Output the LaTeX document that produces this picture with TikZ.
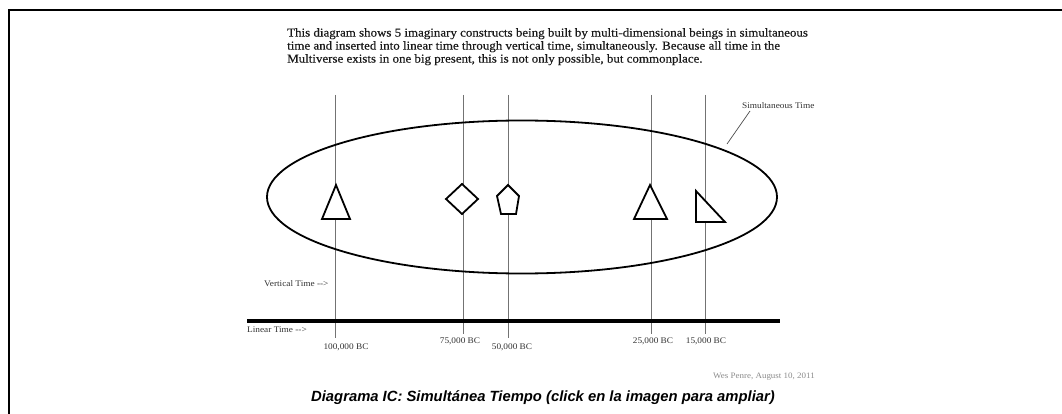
\documentclass[tikz,border=0pt]{standalone}
\usepackage{fontspec}
\usetikzlibrary{shapes.geometric}
\setmainfont{Liberation Serif}
\newfontfamily\parafont[FakeStretch=1.07,FakeBold=0.25]{Liberation Serif}
\newfontfamily\labfont[FakeStretch=1.08]{Liberation Serif}
\newfontfamily\capfont{Liberation Sans}
\begin{document}
\begin{tikzpicture}[x=1pt,y=-1pt,
  frameline/.style={line width=2.5pt,black},
  vline/.style={line width=0.9pt,black!55},
  shapeline/.style={line width=1.8pt,black,fill=white,line join=miter},
  small/.style={font=\labfont\fontsize{8.6}{10}\selectfont,text=black!80,inner sep=0pt},
]
\useasboundingbox (0,0) rectangle (1062,414);
\fill[white] (0,0) rectangle (1062,414);
% frame
\draw[frameline] (9,414) -- (9,10) -- (1062,10);
% paragraph
\node[anchor=north west,inner sep=0pt,align=left,text=black!90,font=\parafont\fontsize{12.1}{13}\selectfont] (para) at (287,28)
 {This diagram shows 5 imaginary constructs being built by multi-dimensional beings in simultaneous\\
  time and inserted into linear time through vertical time, simultaneously. Because all time in the\\
  Multiverse exists in one big present, this is not only possible, but commonplace.};
% vertical time lines
\foreach \n/\x/\b in {a/335/338,b/463/334,c/508/338,d/651/334,e/705/334}{
  \coordinate (\n top) at (\x,95);
  \coordinate (\n bot) at (\x,\b);
  \draw[vline] (\n top) -- (\n bot);
}
% ellipse
\node[draw,line width=1.8pt,ellipse,minimum width=510pt,minimum height=153pt,inner sep=0pt] (sim) at (522,197) {};
% shapes
\coordinate (t1) at (336,185);
\draw[shapeline] (t1) -- (350,219) -- (322,219) -- cycle;
\coordinate (dm) at (462,199);
\draw[shapeline] (462,184) -- (478,199) -- (462,214) -- (446,199) -- cycle;
\coordinate (pg) at (508,185);
\draw[shapeline] (508,185) -- (519,196) -- (516,214) -- (501,214) -- (497,196) -- cycle;
\coordinate (t2) at (650,185);
\draw[shapeline] (t2) -- (667,219) -- (634,219) -- cycle;
\coordinate (rt) at (696,191);
\draw[shapeline] (rt) -- (725,222) -- (696,222) -- cycle;
% simultaneous time label
\node[small,anchor=west] (simlab) at (742,106) {Simultaneous Time};
\coordinate (simpt) at (727,144);
\draw[line width=0.7pt,black!70] (750,111) -- (simpt);
% linear time
\coordinate (lin1) at (247,321);
\coordinate (lin2) at (780,321);
\draw[line width=4pt,black] (lin1) -- (lin2);
\node[small,anchor=west] (vt) at (264,284) {Vertical Time -{}->};
\node[small,anchor=west] (lt) at (247,330) {Linear Time -{}->};
% labels
\node[small] (l1) at (346,347) {100,000 BC};
\node[small] (l2) at (460,341) {75,000 BC};
\node[small] (l3) at (512,347) {50,000 BC};
\node[small] (l4) at (653,341) {25,000 BC};
\node[small] (l5) at (706,341) {15,000 BC};
\node[small,text=black!45,anchor=west,font=\labfont\fontsize{8.3}{10}\selectfont] (sig) at (713,377) {Wes Penre, August 10, 2011};
\node[inner sep=0pt,font=\capfont\bfseries\itshape\fontsize{14.8}{16}\selectfont] (cap) at (543,398)
 {Diagrama IC: Simultánea Tiempo (click en la imagen para ampliar)};
\end{tikzpicture}
\end{document}
